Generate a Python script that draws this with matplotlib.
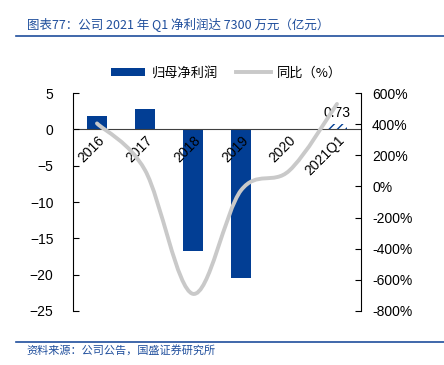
import matplotlib
matplotlib.use("Agg")
from matplotlib import pyplot as plt
from matplotlib.path import Path
from matplotlib.patches import PathPatch, Patch
from matplotlib.lines import Line2D
import numpy as np

plt.rcParams['font.family'] = ['Liberation Sans', 'Noto Sans CJK SC', 'DejaVu Sans']

years = ["2016", "2017", "2018", "2019", "2020", "2021Q1"]
profit = [1.87, 2.75, -16.8, -20.4, 0.08, 0.73]   # 归母净利润 (亿元)
yoy = [405, 105, -690, -25, 100, 530]             # 同比 (%)

blue = "#023E94"
grey = "#C9C9C9"
cjk = ['Noto Sans CJK SC', 'DejaVu Sans']

fig = plt.figure(figsize=(4.44, 3.65), dpi=100)
ax = fig.add_axes([0.1644, 0.148, 0.6486, 0.597])
ax2 = ax.twinx()
ax.set_axisbelow(False)  # year labels sit on top of the bars

x = np.arange(len(years))
ax.bar(x[:-1], profit[:-1], width=0.43, color=blue, zorder=2)
ax.bar(x[-1], profit[-1], width=0.43, facecolor="white", edgecolor=blue,
       hatch="////", linewidth=0, zorder=2)
ax.text(x[-1], profit[-1] + 0.5, "0.73", ha="center", va="bottom", fontsize=10)

# smoothed line like excel (bezier through the data points)
pts = np.column_stack([x, yoy]).astype(float)
verts = [pts[0]]
codes = [Path.MOVETO]
for i in range(len(pts) - 1):
    p0 = pts[max(i - 1, 0)]
    p1 = pts[i]
    p2 = pts[i + 1]
    p3 = pts[min(i + 2, len(pts) - 1)]
    verts += [p1 + (p2 - p0) / 6, p2 - (p3 - p1) / 6, p2]
    codes += [Path.CURVE4] * 3
ax2.add_patch(PathPatch(Path(verts, codes), facecolor="none", edgecolor=grey,
                        linewidth=2.8, capstyle="round", zorder=3))

ax.set_xlim(-0.5, len(years) - 0.5)
ax.set_ylim(-25, 5)
ax.set_yticks(range(-25, 6, 5))
ax2.set_ylim(-800, 600)
ax2.set_yticks(range(-800, 601, 200))
ax2.set_yticklabels([f"{v}%" for v in range(-800, 601, 200)])

ax.spines["bottom"].set_position(("data", 0))
ax.spines["bottom"].set_color("#404040")
ax.spines["top"].set_visible(False)
ax.spines["right"].set_visible(False)
ax2.spines["top"].set_visible(False)
ax2.spines["bottom"].set_visible(False)
ax2.spines["left"].set_visible(False)

ax.set_xticks(x)
ax.set_xticklabels(years, rotation=45, ha="right", rotation_mode="anchor")
ax.tick_params(axis="x", length=0, pad=3, labelsize=10)
ax.tick_params(axis="y", direction="in", length=4, labelsize=10, pad=14)
ax2.tick_params(axis="y", direction="in", length=4, labelsize=10, pad=8)

# legend
handles = [Patch(facecolor=blue), Line2D([0], [0], color=grey, linewidth=2.8)]
fig.legend(handles, ["归母净利润", "同比（%）"], loc="center", bbox_to_anchor=(0.51, 0.80),
           ncol=2, frameon=False, prop={"family": cjk, "size": 9.5},
           handlelength=2.6, handleheight=0.5, columnspacing=1.4, handletextpad=0.5)

# title and source
fig.text(0.06, 0.935, "图表77：公司 2021 年 Q1 净利润达 7300 万元（亿元）", color="#1F4E9C",
         fontsize=9, family=cjk, style="italic", va="center")
fig.add_artist(Line2D([0.036, 1.0], [0.902, 0.902], color="#1F4E9C", linewidth=1.2))
fig.add_artist(Line2D([0.036, 1.0], [0.063, 0.063], color="#1F4E9C", linewidth=1.2))
fig.text(0.06, 0.04, "资料来源：公司公告，国盛证券研究所", color="#1F4E9C",
         fontsize=8, family=cjk, style="italic", va="center")

fig.savefig("out.png", dpi=100)
